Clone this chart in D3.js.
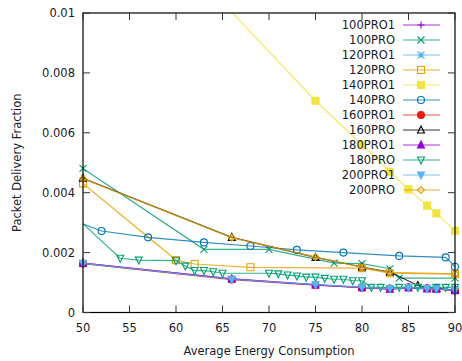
<!DOCTYPE html>
<html>
<head>
<meta charset="utf-8">
<script src="https://cdn.jsdelivr.net/npm/d3@7"></script>
<style>
    body { margin: 0; background: #fff; }
    svg text { font-family: "DejaVu Sans", sans-serif; font-size: 11.5px; fill: #1a1a2a; }
</style>
</head>
<body>
<svg id="chart" width="462" height="361"></svg>
<script>
// series values, [x, y] pairs
const pro100_1 = [[50, 0.00165], [66, 0.00112], [75, 0.00093], [80, 0.00084], [83, 0.00079], [85, 0.00083], [87, 0.00080], [88, 0.00079], [90, 0.00074]];
const pro100 = [[50, 0.00481], [63, 0.00211], [70, 0.00211], [77, 0.00165], [80, 0.00163], [83, 0.00146], [84, 0.00115], [90, 0.00115]];
const pro120_1 = [[50, 0.00164], [66, 0.00111], [75, 0.00092], [80, 0.00085], [83, 0.00079], [85, 0.00084], [87, 0.00081], [88, 0.00080], [90, 0.00075]];
const pro120 = [[50, 0.00431], [60, 0.00175], [62, 0.00162], [68, 0.00151], [80, 0.00148], [83, 0.00131], [90, 0.00128]];
const pro140_1 = [[60, 0.0120], [75, 0.00707], [80, 0.0056], [83, 0.0047], [85, 0.00411], [87, 0.00357], [88, 0.00331], [90, 0.00273]];
const pro140 = [[48, 0.0032], [52, 0.00272], [57, 0.00251], [63, 0.00234], [68, 0.00222], [73, 0.00209], [78, 0.00200], [84, 0.00189], [89, 0.00184], [90, 0.00153]];
const pro160_1 = [[50, 0.00163], [66, 0.00110], [75, 0.00091], [80, 0.00083], [83, 0.00080], [85, 0.00084], [87, 0.00081], [88, 0.00079], [90, 0.00075]];
const pro160 = [[50, 0.00448], [66, 0.00251], [75, 0.00184], [80, 0.00152], [83, 0.00135], [86, 0.00090], [88, 0.00080], [90, 0.00076]];
const pro180_1 = [[50, 0.00165], [66, 0.00112], [75, 0.00092], [80, 0.00083], [83, 0.00078], [85, 0.00082], [87, 0.00079], [88, 0.00078], [90, 0.00073]];
const pro180 = [[48, 0.00354], [54, 0.00181], [56, 0.00175], [60, 0.00173], [61, 0.00155], [62, 0.00140], [63, 0.00140], [64, 0.00136], [65, 0.00131],
    [70, 0.00131], [71, 0.00129], [72, 0.00125], [73, 0.00122], [74, 0.00118], [75, 0.00118], [76, 0.00114], [77, 0.00111], [78, 0.00111],
    [79, 0.00106], [80, 0.00106], [81, 0.00084], [82, 0.00084], [84, 0.00084], [86, 0.00084], [88, 0.00084], [89, 0.00084], [90, 0.00084]];
const pro200_1 = [[50, 0.00164], [66, 0.00111], [75, 0.00093], [80, 0.00084], [83, 0.00080], [85, 0.00083], [87, 0.00080], [88, 0.00079], [90, 0.00075]];
const pro200 = [[50, 0.00447], [66, 0.00250], [75, 0.00185], [80, 0.00151], [83, 0.00134], [90, 0.00129]];

const seriesNames = ["100PRO1", "100PRO", "120PRO1", "120PRO", "140PRO1", "140PRO", "160PRO1", "160PRO", "180PRO1", "180PRO", "200PRO1", "200PRO"];
const seriesData = [pro100_1, pro100, pro120_1, pro120, pro140_1, pro140, pro160_1, pro160, pro180_1, pro180, pro200_1, pro200];

const xTicks = [50, 55, 60, 65, 70, 75, 80, 85, 90];
const yTicks = [0, 0.002, 0.004, 0.006, 0.008, 0.01];
const xTitle = "Average Energy Consumption";
const yTitle = "Packet Delivery Fraction";

// gnuplot default line colours and point types
const colors = ["#9400d3", "#009e73", "#56b4e9", "#e69f00", "#f0e442", "#0072b2", "#e51e10", "#000000", "#9400d3", "#009e73", "#56b4e9", "#e69f00"];
const pointTypes = ["plus", "cross", "star", "square", "squareFill", "circle", "circleFill", "tri", "triFill", "itri", "itriFill", "diamond"];

const width = 462;
const height = 361;
const leftX = 83;
const rightX = 455;
const upperY = 13;
const lowerY = 312.5;

const translate = (x, y) => "translate(" + x + "," + y + ")";

const svg = d3.select("#chart");

const xScale = d3.scaleLinear().domain([50, 90]).range([leftX, rightX]);
const yScale = d3.scaleLinear().domain([0, 0.01]).range([lowerY, upperY]);

svg.append("defs").append("clipPath").attr("id", "plotClip")
    .append("rect")
    .attr("x", leftX).attr("y", upperY)
    .attr("width", rightX - leftX).attr("height", lowerY - upperY);

// point glyph drawn around (0,0)
const s = 3.5;
const drawPoint = (g, type, color) => {
    const filled = type.endsWith("Fill");
    const base = type.replace("Fill", "");
    const fill = filled ? color : "none";
    const stroke = color;
    let d;
    if (base === "plus") {
        d = `M${-s},0H${s}M0,${-s}V${s}`;
    } else if (base === "cross") {
        d = `M${-s},${-s}L${s},${s}M${-s},${s}L${s},${-s}`;
    } else if (base === "star") {
        d = `M${-s},0H${s}M0,${-s}V${s}M${-s},${-s}L${s},${s}M${-s},${s}L${s},${-s}`;
    } else if (base === "square") {
        d = `M${-s},${-s}H${s}V${s}H${-s}Z`;
    } else if (base === "tri") {
        d = `M0,${-s - 0.5}L${s},${s - 0.5}H${-s}Z`;
    } else if (base === "itri") {
        d = `M0,${s + 0.5}L${s},${-s + 0.5}H${-s}Z`;
    } else if (base === "diamond") {
        d = `M0,${-s}L${s},0L0,${s}L${-s},0Z`;
    }
    if (base === "circle") {
        g.append("circle").attr("r", s).attr("fill", fill).attr("stroke", stroke).attr("stroke-width", 1.1);
    } else {
        g.append("path").attr("d", d).attr("fill", fill).attr("stroke", stroke).attr("stroke-width", 1.1);
    }
};

const line = d3.line()
    .x(d => xScale(d[0]))
    .y(d => yScale(d[1]));

const plotG = svg.append("g").attr("class", "plotG");

seriesData.forEach((data, i) => {
    plotG.append("path")
        .attr("d", line(data))
        .attr("clip-path", "url(#plotClip)")
        .attr("fill", "none")
        .attr("stroke", colors[i])
        .attr("stroke-opacity", 0.8)
        .attr("stroke-width", 1.2);

    data.filter(d => d[0] >= 50 && d[0] <= 90 && d[1] <= 0.01).forEach(d => {
        const g = plotG.append("g").attr("transform", translate(xScale(d[0]), yScale(d[1])));
        drawPoint(g, pointTypes[i], colors[i]);
    });
});

// axes, ticks on all four sides pointing inward
const axis = svg.append("g").attr("class", "axis");

axis.append("rect")
    .attr("x", leftX).attr("y", upperY)
    .attr("width", rightX - leftX).attr("height", lowerY - upperY)
    .attr("fill", "none").attr("stroke", "#000").attr("stroke-width", 1.2);

xTicks.forEach(t => {
    const x = xScale(t);
    axis.append("line").attr("x1", x).attr("x2", x).attr("y1", lowerY).attr("y2", lowerY - 7).attr("stroke", "#333");
    axis.append("line").attr("x1", x).attr("x2", x).attr("y1", upperY).attr("y2", upperY + 7).attr("stroke", "#333");
    axis.append("text")
        .attr("x", x).attr("y", 332)
        .attr("text-anchor", "middle")
        .text(t);
});

yTicks.forEach(t => {
    const y = yScale(t);
    axis.append("line").attr("x1", leftX).attr("x2", leftX + 7).attr("y1", y).attr("y2", y).attr("stroke", "#333");
    axis.append("line").attr("x1", rightX).attr("x2", rightX - 7).attr("y1", y).attr("y2", y).attr("stroke", "#333");
    axis.append("text")
        .attr("x", 75).attr("y", y + 4)
        .attr("text-anchor", "end")
        .text(t === 0 ? "0" : String(+t.toFixed(3)));
});

axis.append("text")
    .attr("x", (leftX + rightX) / 2).attr("y", 355)
    .attr("text-anchor", "middle")
    .text(xTitle);

axis.append("text")
    .attr("transform", translate(21, (upperY + lowerY) / 2) + " rotate(-90)")
    .attr("text-anchor", "middle")
    .text(yTitle);

// legend
const legendG = svg.append("g").attr("class", "legendG");
seriesNames.forEach((name, i) => {
    const y = 25 + i * 15;
    legendG.append("text")
        .attr("x", 395).attr("y", y + 4)
        .attr("text-anchor", "end")
        .text(name);
    legendG.append("line")
        .attr("x1", 403).attr("x2", 440).attr("y1", y).attr("y2", y)
        .attr("stroke", colors[i]).attr("stroke-opacity", 0.8).attr("stroke-width", 1.2);
    const g = legendG.append("g").attr("transform", translate(421, y));
    drawPoint(g, pointTypes[i], colors[i]);
});
</script>
</body>
</html>
